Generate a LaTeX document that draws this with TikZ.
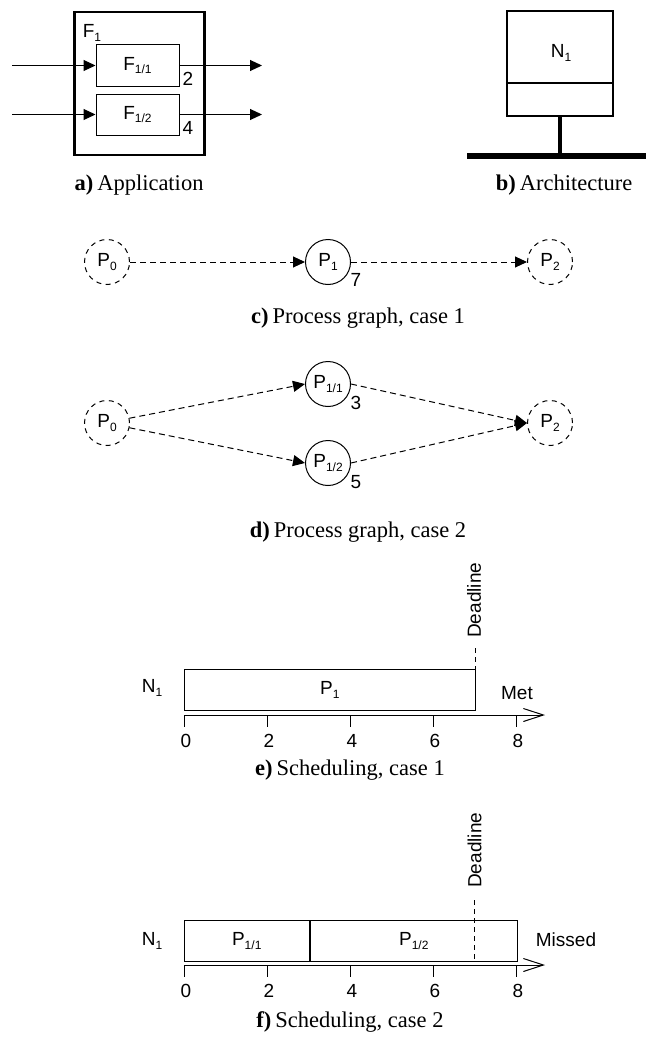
\documentclass[tikz,border=0pt]{standalone}
\usepackage{fontspec}
\setmainfont{Liberation Serif}
\newfontfamily\sansf{Liberation Sans}
\usetikzlibrary{arrows.meta,calc}
\newcommand{\sbx}[1]{\raisebox{-0.35ex}{\fontsize{12}{12}\selectfont #1}}
\tikzset{
  lbl/.style={font=\sansf\fontsize{19}{22}\selectfont, inner sep=0pt},
  captxt/.style={font=\fontsize{22.5}{26}\selectfont, inner sep=0pt},
  proc/.style={circle, draw, line width=1pt, minimum size=45pt, inner sep=0pt, lbl},
  dproc/.style={proc, dash pattern=on 5pt off 4.5pt},
  tiptri/.style={-{Triangle[length=12pt,width=11pt]}},
  darrow/.style={line width=1pt, dash pattern=on 6pt off 4pt, tiptri},
  sarrow/.style={line width=1pt, tiptri},
  thinbox/.style={draw, line width=1pt, inner sep=0pt},
  thickbox/.style={draw, line width=2.5pt, inner sep=0pt},
  dline/.style={line width=1pt, dash pattern=on 5pt off 4pt},
  timeaxis/.style={line width=1pt, -{Straight Barb[length=20pt,width=13pt,line width=1pt]}},
  tickline/.style={line width=1pt},
}
\begin{document}
\begin{tikzpicture}[x=1pt,y=-1pt]
\useasboundingbox (0,0) rectangle (646,1041);
% ---------- a) Application
\node[thickbox, minimum width=130pt, minimum height=143pt] (F1box) at (139.5,83.5) {};
\node[lbl] (F1lab) at (92,33) {F\sbx{1}};
\node[thinbox, lbl, minimum width=83pt, minimum height=41pt] (F11) at (137.5,65.5) {F\sbx{1/1}};
\node[thinbox, lbl, minimum width=83pt, minimum height=41pt] (F12) at (137.5,114.5) {F\sbx{1/2}};
\node[lbl] (w2) at (188,79) {2};
\node[lbl] (w4) at (188,128) {4};
\coordinate (in1) at (12,65.5);
\coordinate (in2) at (12,114.5);
\coordinate (out1) at (262,65.5);
\coordinate (out2) at (262,114.5);
\draw[sarrow] (in1) -- (F11.west);
\draw[sarrow] (in2) -- (F12.west);
\draw[sarrow] (F11.east) -- (out1);
\draw[sarrow] (F12.east) -- (out2);
\node[captxt] (capa) at (139,185) {\textbf{a)}\hspace{4pt}Application};
% ---------- b) Architecture
\node[thickbox, minimum width=106pt, minimum height=105pt] (N1box) at (560,63.5) {};
\draw[line width=2.5pt] (N1box.west |- 0,83) -- (N1box.east |- 0,83);
\node[lbl] (N1lab) at (561,53) {N\sbx{1}};
\coordinate (busL) at (467,156);
\coordinate (busR) at (646,156);
\coordinate (busJ) at (560,156);
\draw[line width=4.5pt] (N1box.south) -- (busJ);
\draw[line width=6.5pt] (busL) -- (busR);
\node[captxt] (capb) at (564,185) {\textbf{b)}\hspace{4pt}Architecture};
% ---------- c) Process graph, case 1
\node[dproc] (P0c) at (107,262) {P\sbx{0}};
\node[proc] (P1c) at (328,262) {P\sbx{1}};
\node[dproc] (P2c) at (550,262) {P\sbx{2}};
\draw[darrow] (P0c.east) -- (P1c.west);
\draw[darrow] (P1c.east) -- (P2c.west);
\node[lbl] (w7) at (356,280) {7};
\node[captxt] (capc) at (358,318) {\textbf{c)}\hspace{4pt}Process graph, case 1};
% ---------- d) Process graph, case 2
\node[dproc] (P0d) at (107,423) {P\sbx{0}};
\node[proc] (P11) at (328,384) {P\sbx{1/1}};
\node[proc] (P12) at (328,463) {P\sbx{1/2}};
\node[dproc] (P2d) at (550,423) {P\sbx{2}};
\draw[darrow] (P0d.12) -- (P11.west);
\draw[darrow] (P0d.-12) -- (P12.west);
\draw[darrow] (P11.east) -- (P2d.west);
\draw[darrow] (P12.east) -- (P2d.west);
\node[lbl] (w3) at (356,403) {3};
\node[lbl] (w5) at (356,482) {5};
\node[captxt] (capd) at (358,532) {\textbf{d)}\hspace{4pt}Process graph, case 2};
% ---------- e) Scheduling, case 1
\def\u{41.5}
\node[thinbox, lbl, minimum width=7*\u pt, minimum height=41pt, anchor=north west] (Pe) at (184,669) {P\sbx{1}};
\node[lbl] (N1e) at (152,688) {N\sbx{1}};
\coordinate (ax0e) at (184,715);
\coordinate (ax1e) at (545,715);
\draw[timeaxis] (ax0e) -- (ax1e);
\foreach \k in {0,2,4,6,8}{
  \coordinate (te\k) at (184+\k*\u,715);
  \draw[tickline] (te\k) -- ++(0,12);
  \node[lbl] (tle\k) at (186+\k*\u,741) {\k};
}
\node[lbl] (mete) at (517,693) {Met};
\node[lbl, rotate=90, anchor=west] (dle) at (474,638) {Deadline};
\coordinate (dtope) at (Pe.north east |- 0,648);
\draw[dline] (dtope) -- (Pe.north east);
\node[captxt] (cape) at (350,770) {\textbf{e)}\hspace{4pt}Scheduling, case 1};
% ---------- f) Scheduling, case 2
\node[thinbox, lbl, minimum width=3*\u pt, minimum height=41pt, anchor=north west] (Pf1) at (184,920) {P\sbx{1/1}};
\node[thinbox, lbl, minimum width=5*\u pt, minimum height=41pt, anchor=north west] (Pf2) at (Pf1.north east) {P\sbx{1/2}};
\node[lbl] (N1f) at (152,941) {N\sbx{1}};
\coordinate (ax0f) at (184,965);
\coordinate (ax1f) at (545,965);
\draw[timeaxis] (ax0f) -- (ax1f);
\foreach \k in {0,2,4,6,8}{
  \coordinate (tf\k) at (184+\k*\u,965);
  \draw[tickline] (tf\k) -- ++(0,12);
  \node[lbl] (tlf\k) at (186+\k*\u,991) {\k};
}
\node[lbl] (missf) at (566,940) {Missed};
\node[lbl, rotate=90, anchor=west] (dlf) at (474.5,888) {Deadline};
\coordinate (dtopf) at (474.5,900);
\coordinate (dbotf) at (474.5,961);
\draw[dline] (dtopf) -- (dbotf);
\node[captxt] (capf) at (350,1022) {\textbf{f)}\hspace{4pt}Scheduling, case 2};
\end{tikzpicture}
\end{document}
